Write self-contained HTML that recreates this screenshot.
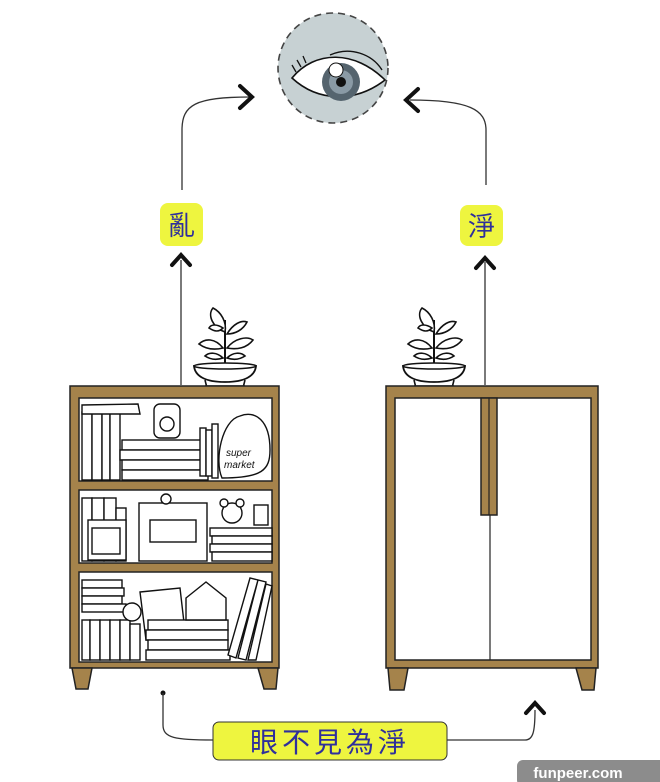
<!DOCTYPE html>
<html><head><meta charset="utf-8"><style>
html,body{margin:0;padding:0;background:#fff;}
svg{display:block}
text{font-family:"Liberation Sans","Noto Sans CJK TC",sans-serif;}
</style></head><body>
<svg width="660" height="782" viewBox="0 0 660 782" xmlns="http://www.w3.org/2000/svg">
<defs>
<g id="plant">
  <path d="M0 -5 L0 -50" stroke="#111" stroke-width="2" fill="none"/>
  <path d="M0 -38 C-12 -42 -18 -55 -12 -62 C-4 -58 2 -48 0 -38Z" fill="#fff" stroke="#111" stroke-width="1.6"/>
  <path d="M2 -36 C8 -46 16 -50 22 -48 C18 -40 10 -36 2 -36Z" fill="#fff" stroke="#111" stroke-width="1.6"/>
  <path d="M-2 -42 C-8 -46 -14 -46 -16 -42 C-10 -38 -6 -38 -2 -42Z" fill="#fff" stroke="#111" stroke-width="1.6"/>
  <path d="M-2 -22 C-10 -32 -20 -32 -26 -26 C-18 -20 -10 -20 -2 -22Z" fill="#fff" stroke="#111" stroke-width="1.6"/>
  <path d="M2 -22 C10 -32 22 -34 28 -30 C22 -22 12 -20 2 -22Z" fill="#fff" stroke="#111" stroke-width="1.6"/>
  <path d="M-2 -12 C-8 -18 -16 -18 -20 -14 C-14 -10 -8 -10 -2 -12Z" fill="#fff" stroke="#111" stroke-width="1.6"/>
  <path d="M2 -12 C8 -18 16 -18 20 -14 C14 -10 8 -10 2 -12Z" fill="#fff" stroke="#111" stroke-width="1.6"/>
  <path d="M-31 -4 L31 -4 C30 6 20 12 0 12 C-20 12 -30 6 -31 -4Z" fill="#fff" stroke="#111" stroke-width="1.8"/>
  <ellipse cx="0" cy="-4" rx="31" ry="3" fill="#fff" stroke="#111" stroke-width="1.6"/>
  <path d="M-20 10 L-18 18 M20 10 L18 18 M-20 16 L20 16" stroke="#111" stroke-width="1.6" fill="none"/>
</g>
</defs>

<!-- eye -->
<circle cx="333" cy="68" r="55" fill="#c7d1d3" stroke="#444" stroke-width="1.6" stroke-dasharray="7 5"/>
<path d="M292 78 C315 50 355 50 385 80 C355 103 318 102 292 78Z" fill="#fff" stroke="#111" stroke-width="1.6"/>
<path d="M330 55 C350 46 372 54 382 70" stroke="#111" stroke-width="1.4" fill="none"/>
<path d="M296 72 L292 65 M301 67 L297 60 M306 63 L303 56" stroke="#111" stroke-width="1.3"/>
<circle cx="341" cy="82" r="19" fill="#55646e"/>
<circle cx="341" cy="82" r="12" fill="#8a9aa5"/>
<circle cx="341" cy="82" r="5" fill="#111"/>
<circle cx="336" cy="70" r="7" fill="#fff" stroke="#111" stroke-width="1"/>

<!-- top connectors -->
<path d="M182 190 L182 130 C182 105 195 97 250 97" stroke="#333" stroke-width="1.3" fill="none"/>
<path d="M240 86 L252 97 L240 108" stroke="#111" stroke-width="4" fill="none" stroke-linecap="round"/>
<path d="M486 185 L486 130 C486 110 470 100 410 100" stroke="#333" stroke-width="1.3" fill="none"/>
<path d="M418 89 L406 100 L418 111" stroke="#111" stroke-width="4" fill="none" stroke-linecap="round"/>

<!-- labels -->
<rect x="160" y="203" width="43" height="43" rx="8" fill="#eef53f"/>
<text x="181.5" y="235" font-size="27" text-anchor="middle" fill="#2f2f9c">亂</text>
<rect x="460" y="205" width="43" height="41" rx="8" fill="#eef53f"/>
<text x="481.5" y="236" font-size="27" text-anchor="middle" fill="#2f2f9c">淨</text>

<path d="M172 265 L181 255 L190 265" stroke="#111" stroke-width="4" fill="none" stroke-linecap="round"/>
<path d="M476 268 L485 258 L494 268" stroke="#111" stroke-width="4" fill="none" stroke-linecap="round"/>
<path d="M181 260 L181 385 M485 262 L485 385" stroke="#333" stroke-width="1.3"/>

<use href="#plant" x="225" y="370"/>
<use href="#plant" x="434" y="370"/>

<!-- left shelf -->
<g stroke="#222" stroke-width="1.5">
<rect x="70" y="386" width="209" height="282" fill="#a5834b"/>
<rect x="79" y="398" width="193" height="83" fill="#fff"/>
<rect x="79" y="490" width="193" height="73" fill="#fff"/>
<rect x="79" y="572" width="193" height="90" fill="#fff"/>
<path d="M72 668 L92 668 L88 689 L76 689Z M258 668 L278 668 L276 689 L264 689Z" fill="#a5834b"/>
</g>
<g stroke="#111" stroke-width="1.4" fill="#fff">
<rect x="82" y="412" width="10" height="68"/><rect x="92" y="412" width="10" height="68"/><rect x="102" y="412" width="8" height="68"/><rect x="110" y="412" width="10" height="68"/>
<path d="M82 405 L138 404 L140 414 L82 414Z"/>
<rect x="122" y="440" width="86" height="10"/><rect x="120" y="450" width="90" height="10"/><rect x="122" y="460" width="88" height="10"/><rect x="122" y="470" width="86" height="10"/>
<rect x="154" y="404" width="26" height="34" rx="6"/><circle cx="167" cy="424" r="7"/>
<rect x="200" y="428" width="6" height="48"/><rect x="206" y="430" width="6" height="46"/><rect x="212" y="424" width="6" height="54"/>
<path d="M222 478 C214 460 222 420 240 416 C255 410 270 420 270 450 C270 470 262 478 222 478Z"/>
<rect x="82" y="498" width="10" height="63"/><rect x="92" y="498" width="12" height="63"/><rect x="104" y="498" width="12" height="63"/><rect x="116" y="508" width="10" height="53"/>
<rect x="88" y="520" width="38" height="40"/><rect x="92" y="528" width="28" height="26"/>
<rect x="139" y="503" width="68" height="58"/><rect x="150" y="520" width="46" height="22"/><circle cx="166" cy="499" r="5"/>
<rect x="210" y="528" width="62" height="8"/><rect x="212" y="536" width="60" height="8"/><rect x="210" y="544" width="62" height="8"/><rect x="212" y="552" width="60" height="9"/>
<circle cx="232" cy="513" r="10"/><circle cx="224" cy="503" r="4"/><circle cx="240" cy="503" r="4"/>
<rect x="254" y="505" width="14" height="20"/>
<rect x="82" y="580" width="40" height="8"/><rect x="82" y="588" width="42" height="8"/><rect x="82" y="596" width="40" height="8"/><rect x="82" y="604" width="44" height="8"/>
<rect x="82" y="620" width="8" height="40"/><rect x="90" y="620" width="10" height="40"/><rect x="100" y="620" width="10" height="40"/><rect x="110" y="620" width="10" height="40"/><rect x="120" y="620" width="10" height="40"/><rect x="130" y="624" width="10" height="36"/>
<path d="M140 592 L180 588 L186 640 L146 640Z"/><circle cx="132" cy="612" r="9"/>
<rect x="148" y="620" width="80" height="10"/><rect x="146" y="630" width="82" height="10"/><rect x="148" y="640" width="80" height="10"/><rect x="146" y="650" width="84" height="10"/>
<path d="M186 598 L206 582 L226 598 L226 620 L186 620Z"/>
<path d="M228 655 L250 578 L258 580 L236 658Z M238 658 L258 580 L266 582 L246 660Z M248 660 L266 584 L272 586 L256 660Z"/>
</g>
<text x="226" y="456" font-size="10" fill="#111" font-style="italic">super</text>
<text x="224" y="468" font-size="10" fill="#111" font-style="italic">market</text>

<!-- right cabinet -->
<g stroke="#222" stroke-width="1.5">
<rect x="386" y="386" width="212" height="282" fill="#a5834b"/>
<rect x="395" y="398" width="196" height="262" fill="#fff"/>
<path d="M388 668 L408 668 L404 690 L390 690Z M576 668 L596 668 L594 690 L582 690Z" fill="#a5834b"/>
<rect x="481" y="398" width="16" height="117" fill="#a5834b"/>
<path d="M489 398 L489 515 M490 515 L490 660" fill="none" stroke-width="1.2"/>
</g>

<!-- bottom connector -->
<circle cx="163" cy="693" r="2.5" fill="#111"/>
<path d="M163 693 L163 725 C163 738 175 740 213 740" stroke="#333" stroke-width="1.3" fill="none"/>
<path d="M447 740 L525 740 C533 740 535 732 535 710" stroke="#333" stroke-width="1.3" fill="none"/>
<path d="M526 713 L535 703 L544 713" stroke="#111" stroke-width="4" fill="none" stroke-linecap="round"/>
<rect x="213" y="722" width="234" height="38" rx="6" fill="#eef53f" stroke="#333" stroke-width="1"/>
<text x="330" y="752" font-size="28" text-anchor="middle" fill="#2f2f9c" letter-spacing="4">眼不見為淨</text>

<rect x="517" y="760" width="150" height="26" rx="6" fill="#8c8c8c"/>
<text x="578" y="778" font-size="15" font-weight="bold" text-anchor="middle" fill="#fff">funpeer.com</text>
</svg>
</body></html>
